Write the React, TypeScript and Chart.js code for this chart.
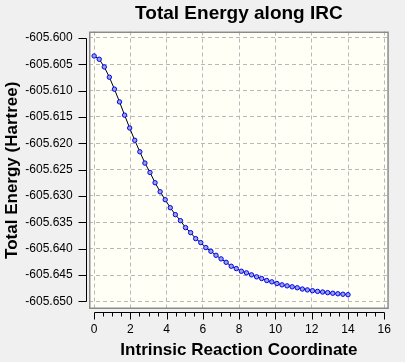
import React, { useEffect, useRef } from 'react';
import { Chart, registerables } from 'chart.js';

Chart.register(...registerables);

const FONT = "'Liberation Sans', Arial, sans-serif";

// Intrinsic reaction coordinate of each IRC point
const ircCoordinate = [
  0.0, 0.28, 0.56, 0.84, 1.12, 1.4, 1.68, 1.96, 2.24, 2.52,
  2.8, 3.08, 3.36, 3.64, 3.92, 4.2, 4.48, 4.76, 5.04, 5.32,
  5.6, 5.88, 6.16, 6.44, 6.72, 7.0, 7.28, 7.56, 7.84, 8.12,
  8.4, 8.68, 8.96, 9.24, 9.52, 9.8, 10.08, 10.36, 10.64, 10.92,
  11.2, 11.48, 11.76, 12.04, 12.32, 12.6, 12.88, 13.16, 13.44, 13.72,
  14.0,
];

// Total energy (Hartree) at each IRC point
const totalEnergy = [
  -605.60343, -605.60405, -605.60551, -605.60746, -605.60973, -605.61214, -605.61466, -605.6171, -605.61943, -605.62161,
  -605.62375, -605.62553, -605.62748, -605.62919, -605.6307, -605.63222, -605.63354, -605.63468, -605.636, -605.63695,
  -605.63809, -605.63884, -605.63979, -605.64049, -605.64125, -605.64193, -605.64258, -605.64333, -605.64377, -605.64428,
  -605.64458, -605.64496, -605.64534, -605.64566, -605.64604, -605.64629, -605.64661, -605.64686, -605.64705, -605.64723,
  -605.64741, -605.64765, -605.64782, -605.64797, -605.6481, -605.64822, -605.64834, -605.64845, -605.64855, -605.64864,
  -605.64873,
];

const xTickValues = [0, 2, 4, 6, 8, 10, 12, 14, 16];
const yTickValues = [
  -605.6, -605.605, -605.61, -605.615, -605.62, -605.625,
  -605.63, -605.635, -605.64, -605.645, -605.65,
];

const titleText = 'Total Energy along IRC';
const xTitleText = 'Intrinsic Reaction Coordinate';
const yTitleText = 'Total Energy (Hartree)';

const framePlugin = {
  id: 'gvFrame',
  beforeDraw(chart: any) {
    const { ctx, chartArea: a, width, height } = chart;
    ctx.save();
    ctx.fillStyle = '#f0f0f0';
    ctx.fillRect(0, 0, width, height);
    ctx.fillStyle = '#fffff6';
    ctx.fillRect(a.left, a.top, a.right - a.left, a.bottom - a.top);
    ctx.restore();
  },
  afterDraw(chart: any) {
    const { ctx, chartArea: a, scales } = chart;
    const xs = scales.x;
    const ys = scales.y;
    ctx.save();
    // plot box
    ctx.strokeStyle = '#8a8a8a';
    ctx.lineWidth = 1.5;
    ctx.strokeRect(a.left + 0.75, a.top + 0.75, a.right - a.left - 1.5, a.bottom - a.top - 1.5);

    ctx.strokeStyle = '#000';
    ctx.lineWidth = 1;
    ctx.beginPath();
    // y axis
    const axX = Math.round(a.left - 3) + 0.5;
    const yTop = Math.round(ys.getPixelForValue(yTickValues[0])) + 0.5;
    const yBot = Math.round(ys.getPixelForValue(yTickValues[yTickValues.length - 1])) + 0.5;
    ctx.moveTo(axX, yTop);
    ctx.lineTo(axX, yBot);
    yTickValues.forEach((v) => {
      const p = Math.round(ys.getPixelForValue(v)) + 0.5;
      ctx.moveTo(axX - 8, p);
      ctx.lineTo(axX, p);
    });
    // x axis
    const axY = Math.round(a.bottom + 3) + 0.5;
    const x0 = Math.round(xs.getPixelForValue(xTickValues[0])) + 0.5;
    const x1 = Math.round(xs.getPixelForValue(xTickValues[xTickValues.length - 1])) + 0.5;
    ctx.moveTo(x0, axY);
    ctx.lineTo(x1, axY);
    for (let i = 0; i < xTickValues.length; i++) {
      const p = Math.round(xs.getPixelForValue(xTickValues[i])) + 0.5;
      ctx.moveTo(p, axY);
      ctx.lineTo(p, axY + 7);
      if (i < xTickValues.length - 1) {
        const step = (xTickValues[i + 1] - xTickValues[i]) / 4;
        for (let k = 1; k < 4; k++) {
          const q = Math.round(xs.getPixelForValue(xTickValues[i] + k * step)) + 0.5;
          ctx.moveTo(q, axY);
          ctx.lineTo(q, axY + 4);
        }
      }
    }
    ctx.stroke();
    ctx.restore();
  },
};

export default function App() {
  const canvasRef = useRef<HTMLCanvasElement | null>(null);

  useEffect(() => {
    document.body.style.margin = '0';
    document.body.style.background = '#f0f0f0';
    const canvas = canvasRef.current;
    if (!canvas) return;
    const points = ircCoordinate.map((x, i) => ({ x, y: totalEnergy[i] }));
    const chart = new Chart(canvas, {
      type: 'scatter',
      data: {
        datasets: [
          {
            data: points,
            showLine: true,
            borderColor: '#000000',
            borderWidth: 1,
            pointRadius: 2.2,
            pointBorderWidth: 1,
            pointBorderColor: '#0000ff',
            pointBackgroundColor: '#9aa4d4',
          },
        ],
      },
      options: {
        responsive: false,
        animation: false,
        events: [],
        layout: { padding: { left: 0, right: 6, top: 0, bottom: 0 } },
        plugins: {
          legend: { display: false },
          tooltip: { enabled: false },
          title: {
            display: true,
            text: titleText,
            color: '#000',
            fullSize: false,
            font: { family: FONT, size: 19, weight: 'bold' },
            padding: { top: 2.6, bottom: 6.1 },
          },
        },
        scales: {
          x: {
            type: 'linear',
            min: -0.283,
            max: 16.25,
            afterBuildTicks: (s: any) => {
              s.ticks = xTickValues.map((v) => ({ value: v }));
            },
            afterFit: (s: any) => {
              s.height = 53;
            },
            grid: { color: '#b8b8b8', lineWidth: 1, drawTicks: false },
            border: { display: false, dash: [4, 3] },
            ticks: {
              padding: 13.8,
              color: '#000',
              font: { family: FONT, size: 12 },
              maxRotation: 0,
              autoSkip: false,
              callback: (v: any) => String(v),
            },
            title: {
              display: true,
              text: xTitleText,
              color: '#000',
              font: { family: FONT, size: 17, weight: 'bold' },
              padding: { top: 0, bottom: 1.8 },
            },
          },
          y: {
            type: 'linear',
            min: -605.651442,
            max: -605.598786,
            afterBuildTicks: (s: any) => {
              s.ticks = yTickValues.map((v) => ({ value: v }));
            },
            afterFit: (s: any) => {
              s.width = 89;
            },
            grid: { color: '#b8b8b8', lineWidth: 1, drawTicks: false },
            border: { display: false, dash: [4, 3] },
            ticks: {
              padding: 16.3,
              color: '#000',
              font: { family: FONT, size: 12 },
              autoSkip: false,
              callback: (v: any) => Number(v).toFixed(3),
            },
            title: {
              display: true,
              text: yTitleText,
              color: '#000',
              font: { family: FONT, size: 17, weight: 'bold' },
              padding: { top: 2.5, bottom: 0 },
            },
          },
        },
      },
      plugins: [framePlugin],
    } as any);
    return () => chart.destroy();
  }, []);

  return (
    <div style={{ width: 405, height: 362 }}>
      <canvas ref={canvasRef} width={405} height={362} style={{ display: 'block' }} />
    </div>
  );
}
